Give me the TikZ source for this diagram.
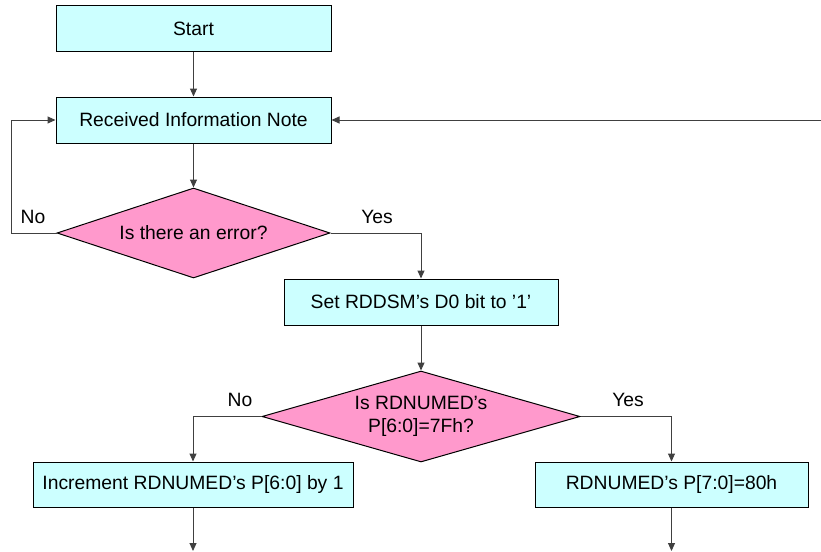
\documentclass[tikz,border=0pt]{standalone}
\usepackage{fontspec}
\setmainfont{Liberation Sans}
\usetikzlibrary{shapes.geometric,arrows.meta}
\definecolor{boxfill}{HTML}{CCFFFF}
\definecolor{decfill}{HTML}{FF99CC}
\definecolor{linecol}{HTML}{404040}
\begin{document}
\begin{tikzpicture}[x=1pt,y=-1pt,
  every node/.style={font=\fontsize{19.3}{23.5}\selectfont},
  procbox/.style={draw=black,fill=boxfill,line width=1pt,minimum height=46pt,inner sep=0pt,align=center},
  decision/.style={diamond,draw=black,fill=decfill,line width=1pt,inner sep=0pt,aspect=3.5,align=center},
  conn/.style={draw=linecol,line width=1pt,-{Triangle[length=8pt,width=7pt]}},
  plain/.style={draw=linecol,line width=1pt},
  lbl/.style={inner sep=0pt}]
\useasboundingbox (0,0) rectangle (821,551);
\node[procbox,minimum width=275pt] (start) at (193.5,29) {Start};
\node[procbox,minimum width=275pt] (recv) at (193.5,120) {Received Information Note};
\node[decision,minimum width=273pt,minimum height=90pt] (d1) at (193.5,233) {Is there an error?};
\node[procbox,minimum width=274pt] (set) at (421,302) {Set RDDSM’s D0 bit to ’1’};
\node[decision,minimum width=318pt,minimum height=91pt] (d2) at (421,416.5) {Is RDNUMED’s\\P[6:0]=7Fh?};
\node[procbox,minimum width=320pt,minimum height=45pt] (inc) at (193,484.5) {Increment RDNUMED’s P[6:0] by 1};
\node[procbox,minimum width=273pt,minimum height=45pt] (p80) at (671.5,484.5) {RDNUMED’s P[7:0]=80h};
\coordinate (rin) at (821,120);
\coordinate (loopl) at (11,233);
\coordinate (endl) at (193,551);
\coordinate (endr) at (671.5,551);
\node[lbl] (no1) at (33,217) {No};
\node[lbl] (yes1) at (377,217) {Yes};
\node[lbl] (no2) at (240,400) {No};
\node[lbl] (yes2) at (628,400) {Yes};
\draw[conn] (start) -- (recv);
\draw[conn] (recv) -- (d1);
\draw[conn] (d1.west) -- (loopl) |- (recv.west);
\draw[conn] (rin) -- (recv.east);
\draw[conn] (d1.east) -| (set.north);
\draw[conn] (set) -- (d2);
\draw[conn] (d2.west) -| (inc.north);
\draw[conn] (d2.east) -| (p80.north);
\draw[conn] (inc) -- (endl);
\draw[conn] (p80) -- (endr);
\end{tikzpicture}
\end{document}
